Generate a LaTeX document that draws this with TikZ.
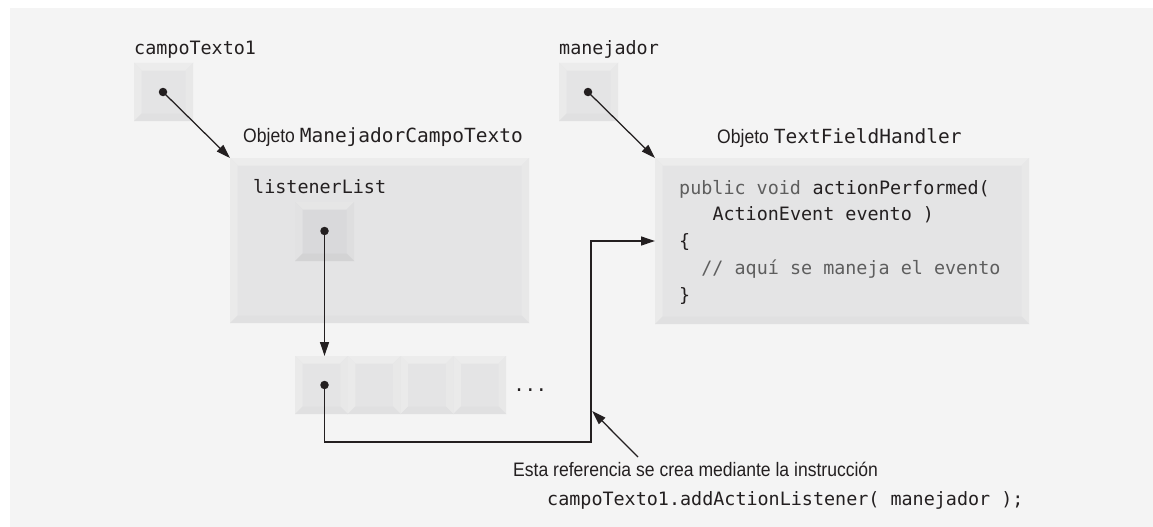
\documentclass[tikz,border=0pt]{standalone}
\usepackage{fontspec}
\setmainfont{Liberation Sans}[FakeStretch=0.9]
\setmonofont{DejaVu Sans Mono}
\usetikzlibrary{arrows.meta}
\definecolor{ink}{HTML}{231F20}
\definecolor{codegray}{HTML}{5E5E5E}
\definecolor{bgpanel}{HTML}{F4F4F4}
\definecolor{face}{HTML}{E4E4E5}
\definecolor{btop}{HTML}{ECECEC}
\definecolor{bleft}{HTML}{EAEAEA}
\definecolor{bright}{HTML}{E8E8E8}
\definecolor{bbot}{HTML}{E0E0E1}
\definecolor{dface}{HTML}{D9D9DB}
\definecolor{dtop}{HTML}{E6E6E6}
\definecolor{dleft}{HTML}{E2E2E3}
\definecolor{dright}{HTML}{DEDEDF}
\definecolor{dbot}{HTML}{D3D3D4}
\newcommand{\bevelpaint}[5]{%
  \path (path picture bounding box.north west) coordinate (bnw)
        (path picture bounding box.north east) coordinate (bne)
        (path picture bounding box.south west) coordinate (bsw)
        (path picture bounding box.south east) coordinate (bse);
  \fill[#1] (bnw) -- (bne) -- ([xshift=-#5,yshift=-#5]bne) -- ([xshift=#5,yshift=-#5]bnw) -- cycle;
  \fill[#2] (bnw) -- ([xshift=#5,yshift=-#5]bnw) -- ([xshift=#5,yshift=#5]bsw) -- (bsw) -- cycle;
  \fill[#3] (bne) -- (bse) -- ([xshift=-#5,yshift=#5]bse) -- ([xshift=-#5,yshift=-#5]bne) -- cycle;
  \fill[#4] (bsw) -- (bse) -- ([xshift=-#5,yshift=#5]bse) -- ([xshift=#5,yshift=#5]bsw) -- cycle;}
\tikzset{
  bevelbox/.style={rectangle, draw=none, inner sep=0pt, outer sep=0pt, anchor=north west, fill=face,
    path picture={\bevelpaint{btop}{bleft}{bright}{bbot}{7.5pt}}},
  bevelboxdark/.style={rectangle, draw=none, inner sep=0pt, outer sep=0pt, anchor=north west, fill=dface,
    path picture={\bevelpaint{dtop}{dleft}{dright}{dbot}{7.5pt}}},
  refdot/.style={circle, fill=ink, draw=none, inner sep=0pt, minimum size=8.5pt},
  arr/.style={draw=ink, line width=1.25pt, -{Triangle[length=14pt,width=9pt]}},
  wire/.style={draw=ink, line width=1.25pt},
  mono/.style={anchor=base west, inner sep=0pt, text=ink, font=\ttfamily\fontsize{18.4pt}{22pt}\selectfont},
  monogray/.style={mono, text=codegray},
  sans/.style={anchor=base west, inner sep=0pt, text=ink, font=\rmfamily\fontsize{19.5pt}{23pt}\selectfont},
}
\begin{document}
\begin{tikzpicture}[x=1pt,y=-1pt]
\useasboundingbox (0,0) rectangle (1153,527);
\fill[white] (0,0) rectangle (1153,527);
\fill[bgpanel] (10,8) rectangle (1153,527);

% boxes
\node[bevelbox, minimum width=59pt, minimum height=58pt] (cbox1) at (134,63) {};
\node[bevelbox, minimum width=59pt, minimum height=58pt] (cbox2) at (559,63) {};
\node[bevelbox, minimum width=299pt, minimum height=165pt] (objL) at (230,158) {};
\node[bevelboxdark, minimum width=59pt, minimum height=59pt] (inner) at (295,202) {};
\node[bevelbox, minimum width=374pt, minimum height=166pt] (objR) at (655,158) {};
\node[bevelbox, minimum width=52.75pt, minimum height=58pt] (cell1) at (295,356) {};
\node[bevelbox, minimum width=52.75pt, minimum height=58pt] (cell2) at (347.75,356) {};
\node[bevelbox, minimum width=52.75pt, minimum height=58pt] (cell3) at (400.5,356) {};
\node[bevelbox, minimum width=52.75pt, minimum height=58pt] (cell4) at (453.25,356) {};

% labels
\node[mono] (lab1) at (134,55) {campoTexto1};
\node[mono] (lab2) at (559,55) {manejador};
\node[sans] (lab3) at (243,142) {Objeto \texttt{ManejadorCampoTexto}};
\node[sans] (lab4) at (717,143) {Objeto \texttt{TextFieldHandler}};
\node[mono] (lab5) at (253,193) {listenerList};
\node[mono] (ellip) at (513.5,391) {...};

% code
\node[monogray] (code1a) at (679,194) {public void};
\node[mono, anchor=base west] (code1b) at (code1a.base east) {\ actionPerformed(};
\node[mono] (code2) at (712.3,220.75) {ActionEvent evento )};
\node[mono] (code3) at (679,247.5) {\{};
\node[monogray] (code4) at (701.2,274.25) {// aquí se maneja el evento};
\node[mono] (code5) at (679,301) {\}};

% dots
\node[refdot] (d1) at (163,92) {};
\node[refdot] (d2) at (588,92) {};
\node[refdot] (d3) at (324.5,231) {};
\node[refdot] (d4) at (324.5,385) {};

% connectors
\draw[arr] (d1.center) -- (objL.north west);
\draw[arr] (d2.center) -- (objR.north west);
\draw[arr] (d3.center) -- (d3.center |- cell1.north);
\coordinate (bend) at (591,442);
\draw[arr] (d4.center) |- (bend) |- (objR.west);

% note
\node[sans] (note1) at (513,476) {Esta referencia se crea mediante la instrucción};
\node[mono] (note2) at (547,505) {campoTexto1.addActionListener( manejador );};
\coordinate (cstart) at (638,457);
\coordinate (ctip) at (592.2,411);
\draw[arr] (cstart) -- (ctip);
\end{tikzpicture}
\end{document}
